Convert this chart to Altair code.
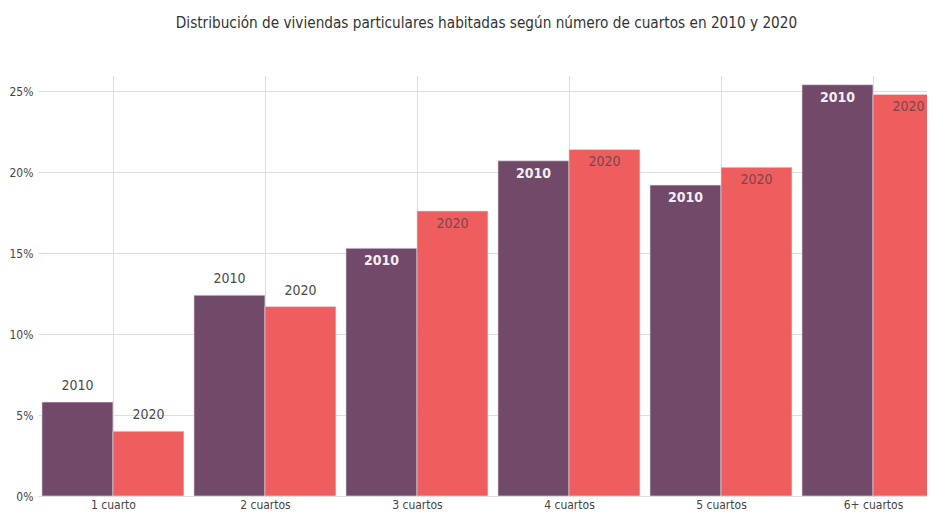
import altair as alt
import pandas as pd

categories = ["1 cuarto", "2 cuartos", "3 cuartos", "4 cuartos", "5 cuartos", "6+ cuartos"]
years = ["2010", "2020"]
values_2010 = [5.8, 12.4, 15.3, 20.7, 19.2, 25.4]
values_2020 = [4.0, 11.7, 17.6, 21.4, 20.3, 24.8]
y_ticks = [0, 5, 10, 15, 20, 25]

rows = []
for i, c in enumerate(categories):
    rows.append({"idx": i, "cat": c, "year": "2010", "side": -1, "value": values_2010[i]})
    rows.append({"idx": i, "cat": c, "year": "2020", "side": 1, "value": values_2020[i]})
df = pd.DataFrame(rows)

FONT = "DejaVu Sans Condensed, sans-serif"
PURPLE = "#714A69"
CORAL = "#EF5E5E"
HALF = 0.467

label_expr = "[" + ",".join("'%s'" % c for c in categories) + "][datum.value]"

x_scale = alt.Scale(domain=[-0.493, 5.408], nice=False, zero=False)
x_axis = alt.Axis(values=list(range(len(categories))), labelExpr=label_expr, grid=True,
                  ticks=False, domain=False, labelAngle=0, labelPadding=3,
                  labelFontSize=12, labelColor="#444444", gridColor="#dddddd")
y_scale = alt.Scale(domain=[0, 26], nice=False)
y_enc = alt.Y(
    "value:Q",
    title=None,
    scale=y_scale,
    axis=alt.Axis(values=y_ticks, labelExpr="datum.value + '%'", ticks=False,
                  domain=False, labelPadding=5, labelFontSize=12,
                  labelColor="#444444", gridColor="#dddddd"),
)

base = alt.Chart(df).transform_calculate(
    xa=f"datum.idx + (datum.side < 0 ? -{HALF} : 0)",
    xb=f"datum.idx + (datum.side < 0 ? 0 : {HALF})",
    xm=f"datum.idx + datum.side * {HALF / 2}",
)

bars = base.mark_bar(clip=True, stroke="#e8dfe6", strokeWidth=0.6).encode(
    x=alt.X("xa:Q", title=None, scale=x_scale, axis=x_axis),
    x2="xb:Q",
    y=y_enc,
    y2=alt.Y2(datum=0),
    color=alt.Color("year:N", scale=alt.Scale(domain=years, range=[PURPLE, CORAL]), legend=None),
)

xt = alt.X("xm:Q", scale=x_scale, title=None)

outside = base.transform_filter("datum.value < 14").mark_text(
    clip=True, baseline="middle", dy=-16, fontSize=14, color="#4a4a4a"
).encode(x=xt, y=y_enc, text="year:N")

inside_2010 = base.transform_filter("datum.value >= 14 && datum.year == '2010'").mark_text(
    clip=True, baseline="middle", dy=13, fontSize=14, fontWeight="bold", color="#f4eef2"
).encode(x=xt, y=y_enc, text="year:N")

inside_2020 = base.transform_filter("datum.value >= 14 && datum.year == '2020'").mark_text(
    clip=True, baseline="middle", dy=13, fontSize=14, color="#7a464c"
).encode(x=xt, y=y_enc, text="year:N")

chart = alt.layer(bars, outside, inside_2010, inside_2020).properties(
    width=897,
    height=421,
    autosize=alt.AutoSizeParams(type="none"),
    padding={"left": 30, "top": 67, "right": -8, "bottom": 14},
    title=alt.TitleParams(
        "Distribución de viviendas particulares habitadas según número de cuartos en 2010 y 2020",
        fontSize=15.2, fontWeight="normal", color="#333333", offset=44, anchor="middle",
    ),
).configure(font=FONT).configure_view(stroke=None)

chart.save("out.html", embed_options={"renderer": "svg", "actions": False})
